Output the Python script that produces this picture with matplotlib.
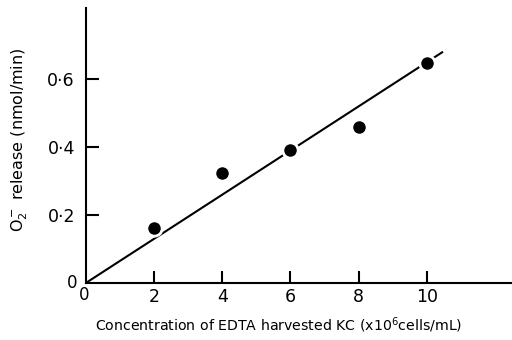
import matplotlib.pyplot as plt

# data
conc = [2, 4, 6, 8, 10]
o2_release = [0.162, 0.324, 0.391, 0.459, 0.647]
fit_x = [0, 10.45]
fit_y = [0, 0.679]

xticks = [2, 4, 6, 8, 10]
yticks = [0.2, 0.4, 0.6]
ytick_labels = ['0·2', '0·4', '0·6']

plt.rcParams['font.family'] = ['DejaVu Sans']

fig = plt.figure(figsize=(5.12, 3.4), dpi=100)
ax = fig.add_axes([0.168, 0.168, 0.832, 0.809])

ax.plot(fit_x, fit_y, color='black', lw=1.5, zorder=2)
ax.plot(conc, o2_release, 'o', color='black', ms=11,
        mec='white', mew=2, zorder=3)

ax.set_xlim(0, 12.5)
ax.set_ylim(0, 0.81)

for s in ['top', 'right']:
    ax.spines[s].set_visible(False)
for s in ['left', 'bottom']:
    ax.spines[s].set_linewidth(1.5)

ax.set_xticks(xticks)
ax.set_xticklabels([str(v) for v in xticks], fontsize=12.5)
ax.set_yticks(yticks)
ax.set_yticklabels(ytick_labels, fontsize=12.5)
ax.tick_params(direction='in', length=9, width=1.5)
ax.tick_params(axis='x', pad=4)
ax.tick_params(axis='y', pad=8)

# zero labels at the origin
ax.text(-0.24, 0.0, '0', ha='right', va='center', fontsize=12)
ax.text(-0.05, -0.01, '0', ha='center', va='top', fontsize=12)

fig.text(0.545, 0.044, 'Concentration of EDTA harvested KC (x10$^6$cells/mL)',
         ha='center', va='center', fontsize=10.2)
fig.text(0.038, 0.59, 'O$_2^-$ release (nmol/min)', rotation=90,
         ha='center', va='center', fontsize=11.5)

fig.savefig('out.png', dpi=100)
